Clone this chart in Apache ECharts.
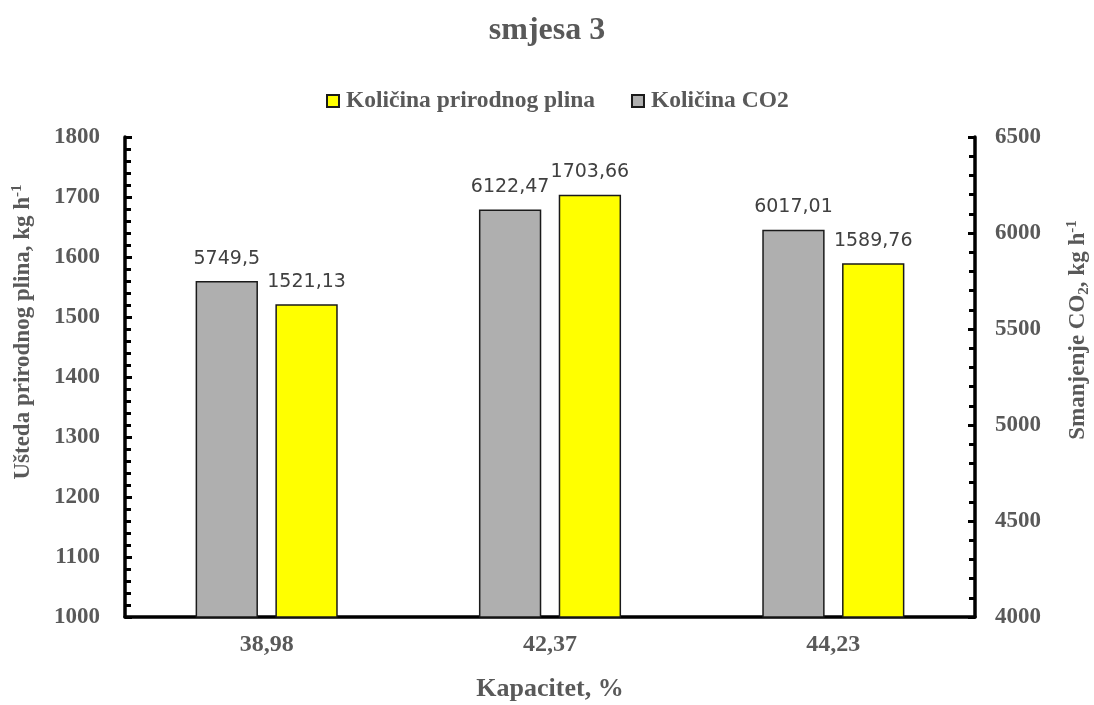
<!DOCTYPE html>
<html>
<head>
<meta charset="utf-8">
<script src="https://cdn.jsdelivr.net/npm/echarts@6/dist/echarts.min.js"></script>
<style>html,body{margin:0;padding:0;background:#fff}#c{width:1094px;height:705px}</style>
</head>
<body>
<div id="c"></div>
<script>
const categories = ['38,98', '42,37', '44,23'];
const plinValues = [1521.13, 1703.66, 1589.76];
const co2Values = [5749.5, 6122.47, 6017.01];
const plinLabels = ['1521,13', '1703,66', '1589,76'];
const co2Labels = ['5749,5', '6122,47', '6017,01'];

const serif = '"Liberation Serif", "Times New Roman", serif';
const sans = '"DejaVu Sans", "Noto Sans", sans-serif';
const axisGray = '#595959';

const chart = echarts.init(document.getElementById('c'));
chart.setOption({
  animation: false,
  title: {
    text: 'smjesa 3', left: 'center', top: 10,
    textStyle: { fontFamily: serif, fontWeight: 'bold', fontSize: 32, color: '#595959' }
  },
  legend: {
    top: 84, left: 321, itemGap: 36, itemWidth: 12, itemHeight: 12, icon: 'rect',
    data: ['Količina prirodnog plina', 'Količina CO2'],
    textStyle: { fontFamily: serif, fontWeight: 'bold', fontSize: 23.5, color: axisGray, padding: [0, 0, 0, 2] }
  },
  grid: { left: 125, right: 119, top: 137, bottom: 88, outerBoundsMode: 'none', containLabel: false },
  xAxis: {
    type: 'category', data: categories,
    name: 'Kapacitet, %', nameLocation: 'middle', nameGap: 59,
    nameTextStyle: { fontFamily: serif, fontWeight: 'bold', fontSize: 26, color: axisGray },
    axisLine: { lineStyle: { color: '#000', width: 3.5 } },
    axisTick: { show: false },
    axisLabel: { margin: 16, fontFamily: serif, fontWeight: 'bold', fontSize: 24, color: axisGray }
  },
  yAxis: [
    {
      type: 'value', min: 1000, max: 1800, interval: 100, position: 'left',
      name: '{a|Ušteda prirodnog plina, kg h}{s|-1}', nameLocation: 'middle', nameGap: 88, nameRotate: 90,
      nameTextStyle: {
        padding: [0, 0, 0, 90],
        rich: {
          a: { fontFamily: serif, fontWeight: 'bold', fontSize: 23, color: axisGray, lineHeight: 27 },
          s: { fontFamily: serif, fontWeight: 'bold', fontSize: 15, color: axisGray, verticalAlign: 'top', lineHeight: 27, padding: [0, 0, 9, 0] }
        }
      },
      axisLine: { show: true, lineStyle: { color: '#000', width: 3.5 } },
      axisTick: { show: true, inside: true, length: 7, lineStyle: { color: '#000', width: 3 } },
      minorTick: { show: true, splitNumber: 5, length: 6, lineStyle: { color: '#000', width: 3 } },
      splitLine: { show: false },
      axisLabel: { margin: 25, fontFamily: serif, fontWeight: 'bold', fontSize: 23, color: axisGray, formatter: v => String(v) }
    },
    {
      type: 'value', min: 4000, max: 6500, interval: 500, position: 'right',
      name: '{a|Smanjenje CO}{b|2}{a|, kg h}{s|-1}', nameLocation: 'middle', nameGap: 90, nameRotate: 90,
      nameTextStyle: {
        padding: [0, 0, 0, 94],
        rich: {
          a: { fontFamily: serif, fontWeight: 'bold', fontSize: 23, color: axisGray, lineHeight: 27 },
          b: { fontFamily: serif, fontWeight: 'bold', fontSize: 15, color: axisGray, verticalAlign: 'bottom', lineHeight: 27, padding: [7, 0, 0, 0] },
          s: { fontFamily: serif, fontWeight: 'bold', fontSize: 15, color: axisGray, verticalAlign: 'top', lineHeight: 27, padding: [0, 0, 9, 0] }
        }
      },
      axisLine: { show: true, lineStyle: { color: '#000', width: 3.5 } },
      axisTick: { show: true, inside: true, length: 7, lineStyle: { color: '#000', width: 3 } },
      minorTick: { show: true, splitNumber: 5, length: 6, lineStyle: { color: '#000', width: 3 } },
      splitLine: { show: false },
      axisLabel: { margin: 20, fontFamily: serif, fontWeight: 'bold', fontSize: 23, color: axisGray, formatter: v => String(v) }
    }
  ],
  series: [
    {
      name: 'Količina CO2', type: 'bar', yAxisIndex: 1, data: co2Values,
      barWidth: '22%', barGap: '28%',
      itemStyle: { color: '#AFAFAF', borderColor: '#1a1a1a', borderWidth: 1.5 },
      label: {
        show: true, position: 'top', distance: 13,
        formatter: p => co2Labels[p.dataIndex],
        fontFamily: sans, fontSize: 19, color: '#404040'
      }
    },
    {
      name: 'Količina prirodnog plina', type: 'bar', yAxisIndex: 0, data: plinValues,
      barWidth: '22%', barGap: '28%',
      itemStyle: { color: '#FFFF00', borderColor: '#1a1a1a', borderWidth: 1.5 },
      label: {
        show: true, position: 'top', distance: 13,
        formatter: p => plinLabels[p.dataIndex],
        fontFamily: sans, fontSize: 19, color: '#404040'
      }
    }
  ]
});
</script>
</body>
</html>
